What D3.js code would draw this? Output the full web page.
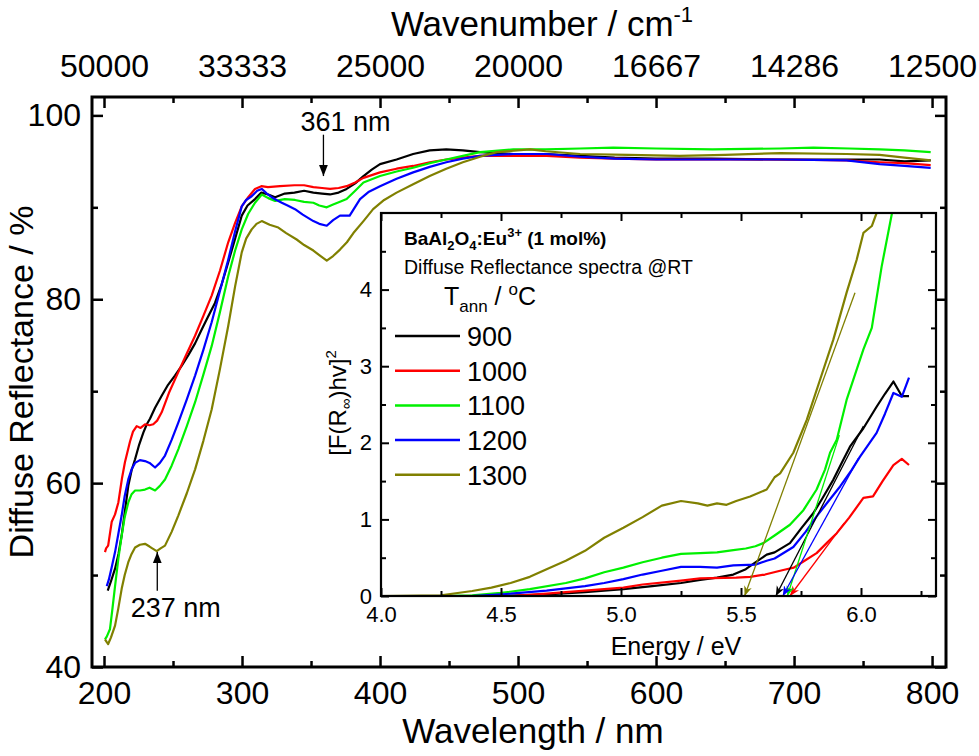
<!DOCTYPE html>
<html><head><meta charset="utf-8">
<script src="https://cdn.jsdelivr.net/npm/d3@7"></script>
<style>
html,body{margin:0;padding:0;background:#fff;}
svg{display:block;font-family:"Liberation Sans",Arial,Helvetica,sans-serif;}
</style></head>
<body>
<svg id="c" width="979" height="756"></svg>
<script>
// ---------------- DATA ----------------
const seriesNames = ["900","1000","1100","1200","1300"];
const seriesColors = ["#000000","#ff0000","#00f000","#0000ff","#808000"];

// Main plot: wavelength (nm) vs diffuse reflectance (%)
const refl900 = [[202.7,48.3],[205,49.3],[208,50.7],[210.5,52.3],[212.8,54.3],[215,56.8],[217.6,59.7],[220,61.4],[222.5,62.6],[225.5,64.2],[228.5,65.5],[231,66.4],[233.3,67.0],[237,68.2],[241.8,69.5],[246,70.6],[251.4,71.7],[256,72.7],[261,73.9],[266,75.2],[270.8,76.7],[275,78.0],[280.4,79.6],[285,81.5],[290,84.0],[295,86.6],[299.8,89.1],[304,90.2],[309.4,90.9],[314,91.6],[319,91.4],[324,91.1],[331,91.5],[338,91.6],[345,91.8],[351.7,91.6],[358,91.5],[363.8,91.4],[370,91.6],[375.8,92.0],[382,92.6],[388,93.4],[394,94.1],[400,94.7],[412,95.2],[424,95.8],[436,96.2],[448,96.3],[460,96.2],[472.5,96.0],[496.6,95.8],[520,95.8],[545,95.6],[570,95.4],[600,95.3],[640,95.3],[690,95.2],[738,95.2],[762,95.2],[780,95.0],[799,95.1]];
const refl1000 = [[200.7,52.5],[201.5,52.9],[203,53.2],[205.6,55.8],[208,56.6],[210.4,57.9],[213,60.5],[215.2,62.3],[218.8,64.5],[221,65.6],[223.7,66.2],[226.5,66.0],[229.7,66.4],[233,66.3],[235.7,66.4],[238.5,66.8],[241.8,67.7],[247,69.8],[253.9,72.1],[260,74.1],[265.9,76.0],[272,78.2],[278,80.4],[284,83.1],[290,86.2],[295,88.3],[299.8,90.1],[304.5,91.1],[309.4,92.0],[314,92.3],[318.8,92.2],[327.5,92.3],[338,92.4],[345,92.4],[351.7,92.2],[358,92.1],[363.8,92.0],[370,92.1],[375.8,92.3],[382,92.7],[388,93.2],[400,93.8],[412,94.2],[424,94.5],[436,94.9],[448,95.2],[460,95.4],[472.5,95.6],[496.6,95.6],[520.8,95.6],[545,95.4],[570,95.3],[600,95.2],[640,95.2],[690,95.2],[738,95.1],[762,94.9],[780,94.8],[799,94.6]];
const refl1100 = [[200.7,43.0],[202,43.3],[204.3,44.1],[206,46.2],[208,48.8],[210.4,51.8],[212.8,54.3],[215,56.3],[217.6,57.9],[220,58.8],[222.5,59.2],[226,59.2],[229.7,59.3],[233,59.5],[237,59.2],[240.5,59.7],[244.2,60.4],[249,61.9],[253.9,63.7],[260,66.2],[266,68.8],[272,71.8],[278,74.9],[284,78.6],[290,82.5],[295,85.3],[299.8,87.6],[304.5,89.3],[309.4,90.5],[314.3,91.4],[319,91.0],[324,90.7],[331,90.9],[338.4,90.8],[345,90.6],[351.7,90.5],[356,90.2],[361.4,90.0],[366,90.3],[371,90.6],[375.8,90.9],[382,91.8],[388,92.7],[400,93.4],[412,93.9],[424,94.3],[436,94.8],[448,95.2],[460,95.6],[472.5,96.0],[496.6,96.3],[520,96.3],[545,96.4],[569,96.5],[600,96.4],[641,96.3],[690,96.4],[714,96.5],[740,96.4],[762,96.3],[780,96.2],[799,96.0]];
const refl1200 = [[202,48.8],[203.5,49.5],[205.5,50.8],[208,52.5],[210.4,54.5],[212.8,56.5],[215,58.6],[217.6,60.4],[220,61.5],[222.5,62.2],[226,62.5],[229.7,62.4],[233,62.2],[237,61.7],[240.5,62.2],[244.2,63.0],[249,64.7],[253.9,66.6],[260,69.1],[266,71.7],[272,74.5],[278,77.5],[284,80.9],[290,84.3],[295,87.4],[299.8,90.1],[303,90.8],[307,91.2],[311,91.8],[314.3,92.0],[318,91.5],[321.5,91.1],[325,90.8],[328.8,90.5],[333,90.2],[338.4,89.8],[344,89.2],[351.7,88.5],[356,88.2],[361.4,88.0],[366,88.6],[371,89.1],[378,89.1],[385.5,90.9],[392,91.7],[400,92.3],[412,93.1],[424,93.8],[436,94.4],[448,94.9],[460,95.3],[472.5,95.6],[496.6,95.8],[520.8,95.8],[545,95.5],[570,95.3],[600,95.2],[650,95.2],[690,95.2],[738,95.1],[762,94.7],[780,94.5],[799,94.3]];
const refl1300 = [[200.7,43.0],[202,42.7],[203,42.5],[205,43.2],[208,44.5],[210.4,46.4],[212.8,48.5],[215,50.0],[217.6,51.4],[220,52.3],[222.5,53.0],[226,53.3],[229.7,53.4],[233,53.1],[235,52.9],[238.2,52.6],[241,52.9],[244.2,53.2],[249,54.7],[253.9,56.5],[260,58.9],[266,61.5],[272,64.6],[278,68.0],[284,72.4],[290,77.1],[295,81.4],[299.8,85.1],[303,86.6],[307,87.6],[310.5,88.2],[314.3,88.5],[320,88.1],[326.3,87.8],[332,87.2],[339.6,86.5],[345,85.9],[351.7,85.3],[356,84.8],[361.4,84.2],[366,84.7],[371,85.4],[376,86.2],[380.7,87.2],[388,88.5],[395,89.8],[403,90.8],[412,91.6],[424,92.5],[436,93.4],[448,94.2],[460,94.9],[472.5,95.5],[484.6,96.0],[508.7,96.3],[520,96.1],[545,95.8],[580,95.7],[617,95.6],[650,95.7],[690,95.9],[738,95.8],[762,95.7],[780,95.4],[799,95.1]];

// Inset: photon energy (eV) vs [F(R)hv]^2
const tauc900 = [[4.0,0],[4.5,0.0],[4.69,0.02],[4.85,0.05],[5.01,0.09],[5.13,0.13],[5.25,0.17],[5.33,0.21],[5.40,0.24],[5.468,0.28],[5.52,0.35],[5.56,0.44],[5.607,0.54],[5.64,0.57],[5.704,0.69],[5.75,0.88],[5.801,1.08],[5.84,1.28],[5.885,1.52],[5.92,1.74],[5.954,1.95],[6.01,2.19],[6.065,2.47],[6.10,2.64],[6.135,2.80],[6.17,2.61],[6.20,2.61]];
const tauc1000 = [[4.0,0],[4.54,0.0],[4.69,0.03],[4.85,0.07],[5.01,0.11],[5.09,0.15],[5.25,0.20],[5.33,0.23],[5.48,0.24],[5.538,0.25],[5.60,0.28],[5.676,0.34],[5.72,0.37],[5.76,0.45],[5.815,0.56],[5.86,0.70],[5.899,0.82],[5.95,1.02],[6.01,1.28],[6.05,1.30],[6.09,1.50],[6.135,1.71],[6.17,1.79],[6.20,1.71]];
const tauc1100 = [[4.0,0],[4.25,0.0],[4.38,0.01],[4.50,0.04],[4.62,0.09],[4.77,0.17],[4.85,0.23],[4.93,0.31],[5.01,0.37],[5.09,0.44],[5.17,0.50],[5.25,0.55],[5.329,0.56],[5.40,0.57],[5.468,0.60],[5.52,0.62],[5.56,0.65],[5.593,0.69],[5.64,0.79],[5.704,0.93],[5.76,1.12],[5.815,1.39],[5.85,1.65],[5.871,1.87],[5.899,2.04],[5.94,2.56],[6.01,3.22],[6.045,3.50],[6.086,4.30],[6.128,4.98],[6.135,5.1]];
const tauc1200 = [[4.0,0],[4.38,0.0],[4.54,0.03],[4.69,0.07],[4.85,0.13],[4.93,0.17],[5.01,0.22],[5.09,0.28],[5.17,0.33],[5.25,0.38],[5.329,0.38],[5.40,0.37],[5.468,0.40],[5.56,0.41],[5.607,0.46],[5.64,0.49],[5.718,0.64],[5.77,0.84],[5.815,1.04],[5.86,1.22],[5.913,1.43],[5.96,1.64],[5.996,1.82],[6.065,2.13],[6.10,2.38],[6.135,2.65],[6.17,2.60],[6.20,2.85]];
const tauc1300 = [[4.0,0],[4.25,0.01],[4.38,0.065],[4.46,0.11],[4.54,0.17],[4.62,0.25],[4.69,0.35],[4.77,0.46],[4.85,0.59],[4.93,0.76],[5.01,0.89],[5.09,1.03],[5.17,1.18],[5.25,1.24],[5.32,1.21],[5.36,1.18],[5.40,1.21],[5.44,1.19],[5.48,1.24],[5.538,1.30],[5.607,1.39],[5.64,1.55],[5.663,1.60],[5.718,1.87],[5.774,2.30],[5.829,2.82],[5.885,3.35],[5.94,3.96],[5.982,4.39],[6.01,4.74],[6.045,4.83],[6.065,5.0],[6.07,5.1]];

// Linear band-gap fits: [upper point, intercept point]
const fit900  = [[6.01,2.22],[5.645,0]];
const fit1000 = [[5.93,0.95],[5.704,0]];
const fit1100 = [[5.91,2.10],[5.693,0]];
const fit1200 = [[5.99,1.80],[5.674,0]];
const fit1300 = [[5.975,3.96],[5.515,0]];

// Tick values
const wlMajor = [200,300,400,500,600,700,800];
const wlMinor = [250,350,450,550,650,750];
const rMajor = [40,60,80,100];
const rMinor = [50,70,90];
const eMajor = [4.0,4.5,5.0,5.5,6.0];
const eMinor = [4.25,4.75,5.25,5.75,6.25];
const fMajor = [0,1,2,3,4];
const fMinor = [0.5,1.5,2.5,3.5,4.5];

// Annotations (data units)
const annot361 = {text:"361 nm", xArrow:359, yTip:93.4, yTail:97.9, xText:375, yText:98.3};
const annot237 = {text:"237 nm", xArrow:238.6, yTip:52.5, yTail:48.3, xText:252, yText:45.4};

const reflSeries = [refl900,refl1000,refl1100,refl1200,refl1300];
const taucSeries = [tauc900,tauc1000,tauc1100,tauc1200,tauc1300];
const fitSeries = [fit900,fit1000,fit1100,fit1200,fit1300];

// ---------------- DRAW ----------------
const svg = d3.select("#c");
const M = {l:92, r:946, t:97, b:667};
const x = d3.scaleLinear().domain([191.3, 810.1]).range([M.l, M.r]);
const y = d3.scaleLinear().domain([40, 102]).range([M.b, M.t]);

const defs = svg.append("defs");
defs.append("clipPath").attr("id","mainClip").append("rect")
  .attr("x",M.l).attr("y",M.t).attr("width",M.r-M.l).attr("height",M.b-M.t);

const line = d3.line().x(d=>x(d[0])).y(d=>y(d[1]));
const gMain = svg.append("g").attr("clip-path","url(#mainClip)");
reflSeries.forEach((s,i)=>{
  gMain.append("path").datum(s).attr("d",line).attr("fill","none")
    .attr("stroke",seriesColors[i]).attr("stroke-width",2.2).attr("stroke-linejoin","round");
});

function styleAxis(g){ g.select(".domain").remove(); g.selectAll("line").attr("stroke","#000").attr("stroke-width",2.5); }
const FT = 32;
// bottom
svg.append("g").attr("transform",`translate(0,${M.b})`)
  .call(d3.axisBottom(x).tickValues(wlMajor).tickSizeInner(-11).tickSizeOuter(0).tickPadding(14).tickFormat(d3.format("d")))
  .call(styleAxis).call(g=>g.selectAll("text").attr("font-size",FT).attr("font-family","Liberation Sans, Arial").attr("fill","#000"));
svg.append("g").attr("transform",`translate(0,${M.b})`)
  .call(d3.axisBottom(x).tickValues(wlMinor).tickSizeInner(-6).tickSizeOuter(0).tickFormat(""))
  .call(styleAxis);
// top
svg.append("g").attr("transform",`translate(0,${M.t})`)
  .call(d3.axisTop(x).tickValues(wlMajor).tickSizeInner(-11).tickSizeOuter(0).tickPadding(20).tickFormat(d=>Math.round(1e7/d)))
  .call(styleAxis).call(g=>g.selectAll("text").attr("font-size",FT).attr("font-family","Liberation Sans, Arial").attr("fill","#000"));
svg.append("g").attr("transform",`translate(0,${M.t})`)
  .call(d3.axisTop(x).tickValues(wlMinor).tickSizeInner(-6).tickSizeOuter(0).tickFormat(""))
  .call(styleAxis);
// left
svg.append("g").attr("transform",`translate(${M.l},0)`)
  .call(d3.axisLeft(y).tickValues(rMajor).tickSizeInner(-11).tickSizeOuter(0).tickPadding(11).tickFormat(d3.format("d")))
  .call(styleAxis).call(g=>g.selectAll("text").attr("font-size",FT).attr("font-family","Liberation Sans, Arial").attr("fill","#000"));
svg.append("g").attr("transform",`translate(${M.l},0)`)
  .call(d3.axisLeft(y).tickValues(rMinor).tickSizeInner(-6).tickSizeOuter(0).tickFormat(""))
  .call(styleAxis);
// right
svg.append("g").attr("transform",`translate(${M.r},0)`)
  .call(d3.axisRight(y).tickValues(rMajor).tickSizeInner(-11).tickSizeOuter(0).tickFormat(""))
  .call(styleAxis);
svg.append("g").attr("transform",`translate(${M.r},0)`)
  .call(d3.axisRight(y).tickValues(rMinor).tickSizeInner(-6).tickSizeOuter(0).tickFormat(""))
  .call(styleAxis);

// frame
svg.append("rect").attr("x",M.l).attr("y",M.t).attr("width",M.r-M.l).attr("height",M.b-M.t)
  .attr("fill","none").attr("stroke","#000").attr("stroke-width",3);

// axis titles
svg.append("text").attr("x",533).attr("y",743).attr("text-anchor","middle")
  .attr("font-size",35).text("Wavelength / nm");
const tt = svg.append("text").attr("x",542).attr("y",36).attr("text-anchor","middle").attr("font-size",35);
tt.append("tspan").text("Wavenumber / cm");
tt.append("tspan").attr("font-size",22).attr("dy",-14).text("-1");
svg.append("text").attr("transform",`translate(33,${(M.t+M.b)/2}) rotate(-90)`).attr("text-anchor","middle")
  .attr("font-size",34).text("Diffuse Reflectance / %");

// annotation arrows
defs.append("marker").attr("id","arrBlack").attr("viewBox","0 0 10 10").attr("refX",10).attr("refY",5)
  .attr("markerWidth",11).attr("markerHeight",14).attr("markerUnits","userSpaceOnUse").attr("orient","auto")
  .append("path").attr("d","M0,1 L10,5 L0,9 Z").attr("fill","#000");
[annot361, annot237].forEach(a=>{
  svg.append("line").attr("x1",x(a.xArrow)).attr("x2",x(a.xArrow)).attr("y1",y(a.yTail)).attr("y2",y(a.yTip))
    .attr("stroke","#000").attr("stroke-width",1.3).attr("marker-end","url(#arrBlack)");
  svg.append("text").attr("x",x(a.xText)).attr("y",y(a.yText)).attr("text-anchor","middle")
    .attr("font-size",27).text(a.text);
});

// ---------------- INSET ----------------
const I = {l:381, r:936, t:213, b:596};
const xi = d3.scaleLinear().domain([4.0, 6.3125]).range([I.l, I.r]);
const yi = d3.scaleLinear().domain([0, 5]).range([I.b, I.t]);
svg.append("rect").attr("x",I.l).attr("y",I.t).attr("width",I.r-I.l).attr("height",I.b-I.t).attr("fill","#fff");
defs.append("clipPath").attr("id","insetClip").append("rect")
  .attr("x",I.l).attr("y",I.t).attr("width",I.r-I.l).attr("height",I.b-I.t);
const gIn = svg.append("g").attr("clip-path","url(#insetClip)");
const lineI = d3.line().x(d=>xi(d[0])).y(d=>yi(d[1]));
taucSeries.forEach((s,i)=>{
  gIn.append("path").datum(s).attr("d",lineI).attr("fill","none")
    .attr("stroke",seriesColors[i]).attr("stroke-width",2.2).attr("stroke-linejoin","round");
});
seriesColors.forEach((c,i)=>{
  defs.append("marker").attr("id","arr"+i).attr("viewBox","0 0 10 10").attr("refX",10).attr("refY",5)
    .attr("markerWidth",10).attr("markerHeight",10).attr("markerUnits","userSpaceOnUse").attr("orient","auto")
    .append("path").attr("d","M0,1 L10,5 L0,9 L3,5 Z").attr("fill",c);
});
fitSeries.forEach((f,i)=>{
  svg.append("line").attr("x1",xi(f[0][0])).attr("y1",yi(f[0][1])).attr("x2",xi(f[1][0])).attr("y2",yi(f[1][1]))
    .attr("stroke",seriesColors[i]).attr("stroke-width",1.3).attr("marker-end",`url(#arr${i})`);
});

const FI = 22;
function styleI(g){ g.select(".domain").remove(); g.selectAll("line").attr("stroke","#000").attr("stroke-width",2); }
svg.append("g").attr("transform",`translate(0,${I.b})`)
  .call(d3.axisBottom(xi).tickValues(eMajor).tickSizeInner(-8).tickSizeOuter(0).tickPadding(10).tickFormat(d3.format(".1f")))
  .call(styleI).call(g=>g.selectAll("text").attr("font-size",FI).attr("font-family","Liberation Sans, Arial").attr("fill","#000"));
svg.append("g").attr("transform",`translate(0,${I.b})`)
  .call(d3.axisBottom(xi).tickValues(eMinor).tickSizeInner(-5).tickSizeOuter(0).tickFormat("")).call(styleI);
svg.append("g").attr("transform",`translate(0,${I.t})`)
  .call(d3.axisTop(xi).tickValues(eMajor).tickSizeInner(-8).tickSizeOuter(0).tickFormat("")).call(styleI);
svg.append("g").attr("transform",`translate(0,${I.t})`)
  .call(d3.axisTop(xi).tickValues(eMinor).tickSizeInner(-5).tickSizeOuter(0).tickFormat("")).call(styleI);
svg.append("g").attr("transform",`translate(${I.l},0)`)
  .call(d3.axisLeft(yi).tickValues(fMajor).tickSizeInner(-8).tickSizeOuter(0).tickPadding(9).tickFormat(d3.format("d")))
  .call(styleI).call(g=>g.selectAll("text").attr("font-size",FI).attr("font-family","Liberation Sans, Arial").attr("fill","#000"));
svg.append("g").attr("transform",`translate(${I.l},0)`)
  .call(d3.axisLeft(yi).tickValues(fMinor).tickSizeInner(-5).tickSizeOuter(0).tickFormat("")).call(styleI);
svg.append("g").attr("transform",`translate(${I.r},0)`)
  .call(d3.axisRight(yi).tickValues(fMajor).tickSizeInner(-8).tickSizeOuter(0).tickFormat("")).call(styleI);
svg.append("g").attr("transform",`translate(${I.r},0)`)
  .call(d3.axisRight(yi).tickValues(fMinor).tickSizeInner(-5).tickSizeOuter(0).tickFormat("")).call(styleI);
svg.append("rect").attr("x",I.l).attr("y",I.t).attr("width",I.r-I.l).attr("height",I.b-I.t)
  .attr("fill","none").attr("stroke","#000").attr("stroke-width",2.2);

svg.append("text").attr("x",676).attr("y",655).attr("text-anchor","middle").attr("font-size",25).text("Energy / eV");
const yl = svg.append("text").attr("transform",`translate(346,403) rotate(-90)`).attr("text-anchor","middle").attr("font-size",24);
yl.append("tspan").text("[F(R");
yl.append("tspan").attr("font-size",15).attr("dy",5).text("∞");
yl.append("tspan").attr("dy",-5).text(")hv]");
yl.append("tspan").attr("font-size",15).attr("dy",-10).text("2");

// inset legend / titles
const t1 = svg.append("text").attr("x",404).attr("y",245).attr("font-size",19).attr("font-weight","bold");
t1.append("tspan").text("BaAl");
t1.append("tspan").attr("font-size",13).attr("dy",5).text("2");
t1.append("tspan").attr("dy",-5).text("O");
t1.append("tspan").attr("font-size",13).attr("dy",5).text("4");
t1.append("tspan").attr("dy",-5).text(":Eu");
t1.append("tspan").attr("font-size",13).attr("dy",-8).text("3+");
t1.append("tspan").attr("dy",8).text(" (1 mol%)");
svg.append("text").attr("x",404).attr("y",274).attr("font-size",19.5).text("Diffuse Reflectance spectra @RT");
const t3 = svg.append("text").attr("x",444).attr("y",305).attr("font-size",25);
t3.append("tspan").text("T");
t3.append("tspan").attr("font-size",17).attr("dy",7).text("ann");
t3.append("tspan").attr("dy",-7).text(" / ");
t3.append("tspan").attr("font-size",17).attr("dy",-10).text("o");
t3.append("tspan").attr("dy",10).text("C");

const legY0 = 336, legDy = 34.7;
seriesNames.forEach((n,i)=>{
  const yy = legY0 + i*legDy;
  svg.append("line").attr("x1",395).attr("x2",460).attr("y1",yy).attr("y2",yy)
    .attr("stroke",seriesColors[i]).attr("stroke-width",2.5);
  svg.append("text").attr("x",467).attr("y",yy+10).attr("font-size",27).text(n);
});
</script>
</body></html>
